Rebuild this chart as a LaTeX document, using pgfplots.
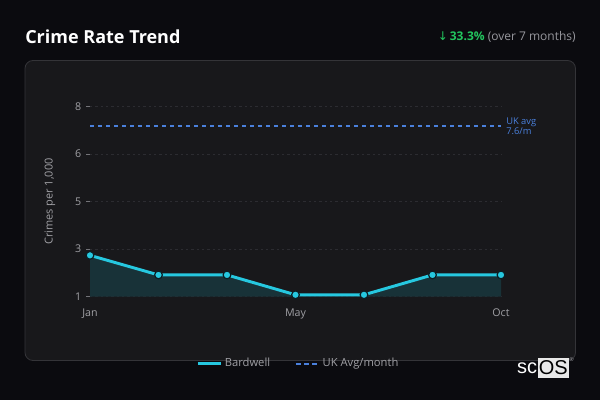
\documentclass[border=0pt]{standalone}
\usepackage{pgfplots}
\pgfplotsset{compat=1.18}
\usepackage{fontspec}
\setmainfont{Open Sans}
\newfontfamily\dejavu{DejaVu Sans}
\newfontfamily\logofont{Liberation Sans}
\definecolor{bgc}{RGB}{11,11,15}
\definecolor{cardc}{RGB}{24,24,27}
\definecolor{cardb}{RGB}{52,52,56}
\definecolor{gridc}{RGB}{44,44,49}
\definecolor{tickc}{RGB}{115,115,120}
\definecolor{labelc}{RGB}{160,160,165}
\definecolor{cyanc}{RGB}{38,200,224}
\definecolor{markedge}{RGB}{12,30,36}
\definecolor{fillc}{RGB}{24,50,56}
\definecolor{ukc}{RGB}{74,128,220}
\definecolor{greenc}{RGB}{34,197,94}
\definecolor{grayc}{RGB}{150,150,156}
\begin{document}
\begin{tikzpicture}
\useasboundingbox (0,0) rectangle (450pt,300pt);
\fill[bgc] (0,0) rectangle (450pt,300pt);
\begin{scope}[x=0.75pt,y=-0.75pt,yshift=300pt]
  \draw[cardb,fill=cardc,line width=0.6pt,rounded corners=6pt] (25,60.5) rectangle (575.5,360.5);
  \node[anchor=west,text=white,font=\fontsize{13.5}{16}\selectfont\bfseries,inner sep=0pt] at (25,37) {Crime Rate Trend};
  \node[anchor=east,inner sep=0pt,font=\fontsize{9}{11}\selectfont] at (576,37) {\textcolor{greenc}{{\dejavu ↓}\,\textbf{33.3\%}} \textcolor{grayc}{(over 7 months)}};
  \node[anchor=east,inner sep=0pt,text=white,font=\fontsize{15}{17}\selectfont\logofont] at (537.5,368.5) {sc};
  \node[anchor=west,inner sep=0.8pt,fill=white!82!gray,text=black,font=\fontsize{15}{17}\selectfont\logofont,minimum height=14.5pt] at (537.5,368) {OS};
  \node[anchor=center,inner sep=0pt,text=grayc,font=\fontsize{4}{5}\selectfont] at (571.5,360) {®};
\end{scope}
\begin{axis}[
  at={(67.5pt,77.475pt)}, anchor=south west,
  scale only axis, width=308.25pt, height=142.8pt,
  xmin=0, xmax=6, ymin=1, ymax=8,
  xtick={0,3,6}, xticklabels={Jan,May,Oct},
  ytick={1,2.75,4.5,6.25,8}, yticklabels={1,3,5,6,8},
  axis line style={draw=none},
  ymajorgrids, grid style={dash pattern=on 1.8pt off 2.2pt, color=gridc, line width=0.5pt},
  ytick style={draw=tickc, line width=0.6pt}, major tick length=3pt, tick align=outside,
  ytick pos=left, xtick style={draw=none},
  tick label style={font=\fontsize{8}{9.5}\selectfont, text=labelc},
  /pgf/number format/assume math mode=true,
  xticklabel style={yshift=-2.5pt},
  ylabel={Crimes per 1,000},
  ylabel style={at={(axis description cs:-0.0973,0.5)}, anchor=center, font=\fontsize{8.2}{9.5}\selectfont, text=labelc},
  legend style={at={(0.508,-0.352)}, anchor=center, legend columns=2, draw=none, fill=none,
    font=\fontsize{8.4}{10}\selectfont, text=labelc,
    /tikz/every even column/.append style={column sep=17pt}},
  clip=false,
]
\addplot[fill=fillc, draw=none, forget plot] coordinates {
(0,2.52) (1,1.80) (2,1.80) (3,1.07) (4,1.07) (5,1.80) (6,1.80)} \closedcycle;
\addplot[color=ukc, line width=1.1pt, dash pattern=on 3pt off 3pt, forget plot]
coordinates {(0,7.27) (6,7.27)};
\addplot[color=cyanc, line width=2.2pt, mark=*, mark size=2.9pt,
  mark options={fill=cyanc, draw=markedge, line width=0.9pt},
  legend image code/.code={\draw[cyanc,line width=2.2pt] (0cm,0cm)--(0.6cm,0cm);}]
coordinates {(0,2.52) (1,1.80) (2,1.80) (3,1.07) (4,1.07) (5,1.80) (6,1.80)};
\addlegendentry{Bardwell}
\addlegendimage{legend image code/.code={\draw[draw=ukc,line width=1.3pt,dash pattern=on 3.5pt off 2.5pt] (0cm,0cm)--(0.6cm,0cm);}}
\addlegendentry{UK Avg/month}
\node[anchor=west, align=left, text=ukc, font=\fontsize{7}{7.5}\selectfont, inner sep=0pt] at (axis cs:6,7.27) [xshift=3.75pt] {UK avg\\7.6/m};
\end{axis}
\end{tikzpicture}
\end{document}
